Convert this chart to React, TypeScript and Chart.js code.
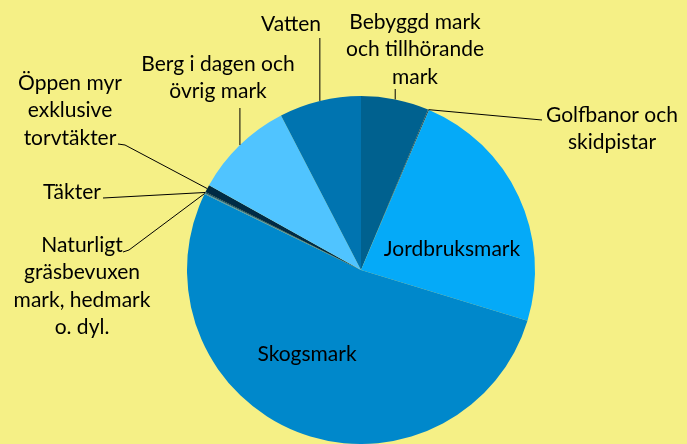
import React, { useEffect, useRef } from "react";
import { Chart, registerables } from "chart.js";

Chart.register(...registerables);

const categories: string[][] = [
  ["Bebyggd mark", "och tillhörande", "mark"],
  ["Golfbanor och", "skidpistar"],
  ["Jordbruksmark"],
  ["Skogsmark"],
  ["Naturligt", "gräsbevuxen", "mark, hedmark", "o. dyl."],
  ["Täkter"],
  ["Öppen myr", "exklusive", "torvtäkter"],
  ["Berg i dagen och", "övrig mark"],
  ["Vatten"],
];

const values: number[] = [6.3, 0.1, 23.3, 52.5, 0.1, 0.1, 0.7, 9.3, 7.6];

const colors: string[] = [
  "#00618F",
  "#1F4E6E",
  "#05AAF8",
  "#0088CB",
  "#4C8FA8",
  "#0A4A6E",
  "#002B45",
  "#50C4FF",
  "#0074B0",
];

const BG = "#F5F086";
const FONT = "21px Lato";
const LINE_H = 27.5;

type Pt = [number, number];
const layout: { x: number; y: number; lead: (Pt | "vx")[] | null; vy?: number }[] = [
  { x: 415, y: 22, lead: ["vx"], vy: 89 },
  { x: 612, y: 115, lead: [[542, 120]] },
  { x: 452, y: 249, lead: null },
  { x: 307, y: 354, lead: null },
  { x: 82, y: 245, lead: [[123, 252], [129, 250]] },
  { x: 72, y: 192, lead: [[103, 198]] },
  { x: 70, y: 83, lead: [[118, 144], [125, 145]] },
  { x: 218, y: 64, lead: ["vx"], vy: 108 },
  { x: 291, y: 24, lead: ["vx"], vy: 38 },
];

const calloutPlugin = {
  id: "callouts",
  beforeDraw(chart: any) {
    const ctx = chart.ctx;
    ctx.save();
    ctx.fillStyle = BG;
    ctx.fillRect(0, 0, chart.width, chart.height);
    ctx.restore();
  },
  afterDraw(chart: any) {
    const ctx = chart.ctx;
    const meta = chart.getDatasetMeta(0);
    ctx.save();
    ctx.font = FONT;
    ctx.fillStyle = "#000";
    ctx.strokeStyle = "#000";
    ctx.lineWidth = 1;
    ctx.textAlign = "center";
    ctx.textBaseline = "middle";
    categories.forEach((lines, i) => {
      const L = layout[i];
      lines.forEach((t, k) => ctx.fillText(t, L.x, L.y + k * LINE_H));
      if (L.lead) {
        const arc = meta.data[i];
        const p = arc.getProps(["x", "y", "startAngle", "endAngle", "outerRadius"], true);
        const mid = (p.startAngle + p.endAngle) / 2;
        const ax = p.x + Math.cos(mid) * p.outerRadius;
        const ay = p.y + Math.sin(mid) * p.outerRadius;
        ctx.beginPath();
        L.lead.forEach((pt, k) => {
          const q: Pt = pt === "vx" ? [ax, L.vy as number] : pt;
          if (k === 0) ctx.moveTo(q[0], q[1]);
          else ctx.lineTo(q[0], q[1]);
        });
        ctx.lineTo(ax, ay);
        ctx.stroke();
      }
    });
    ctx.restore();
  },
};

export default function App() {
  const ref = useRef<HTMLCanvasElement>(null);
  useEffect(() => {
    document.body.style.margin = "0";
    document.body.style.background = BG;
    const chart = new Chart(ref.current as HTMLCanvasElement, {
      type: "pie",
      data: {
        labels: categories.map((c) => c.join(" ")),
        datasets: [
          {
            data: values,
            backgroundColor: colors,
            borderWidth: 0,
          },
        ],
      },
      options: {
        responsive: false,
        animation: false,
        devicePixelRatio: 1,
        layout: { padding: { left: 187, right: 152, top: 96, bottom: 0 } },
        plugins: { legend: { display: false }, tooltip: { enabled: false } },
      },
      plugins: [calloutPlugin],
    });
    return () => chart.destroy();
  }, []);
  return (
    <div style={{ width: 687, height: 444, background: BG }}>
      <canvas ref={ref} width={687} height={444} />
    </div>
  );
}
